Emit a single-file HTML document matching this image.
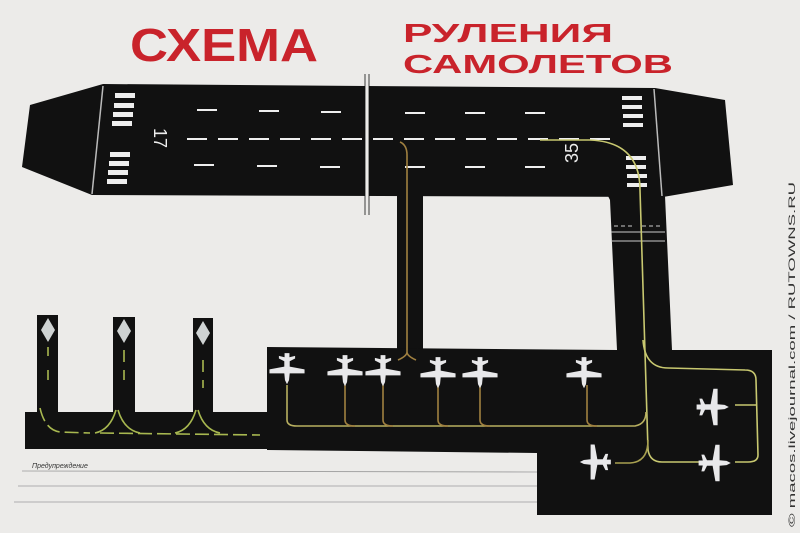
<!DOCTYPE html>
<html><head><meta charset="utf-8"><style>
html,body{margin:0;padding:0;background:#ecebe9;}
svg{display:block}
</style></head><body>
<svg width="800" height="533" viewBox="0 0 800 533" xmlns="http://www.w3.org/2000/svg">
<defs>
<g id="pl" fill="#e8e8ea">
<path d="M-1.8,-11 L1.8,-11 L1.8,-8 L6,-9 L6,-7 L2,-5 L2,-1 L13,1 L13,4 L2,4 L1.5,9 L0,12 L-1.5,9 L-2,4 L-13,4 L-13,1 L-2,-1 L-2,-5 L-6,-7 L-6,-9 L-1.8,-8Z"/>
</g>
</defs>
<rect width="800" height="533" fill="#ecebe9"/>
<text x="130" y="61" font-family="Liberation Sans, DejaVu Sans, sans-serif" font-weight="bold" font-size="46" fill="#c9232b" textLength="188" lengthAdjust="spacingAndGlyphs">СХЕМА</text>
<text x="403" y="42" font-family="Liberation Sans, DejaVu Sans, sans-serif" font-weight="bold" font-size="26" fill="#c9232b" textLength="210" lengthAdjust="spacingAndGlyphs">РУЛЕНИЯ</text>
<text x="403" y="73" font-family="Liberation Sans, DejaVu Sans, sans-serif" font-weight="bold" font-size="26" fill="#c9232b" textLength="270" lengthAdjust="spacingAndGlyphs">САМОЛЕТОВ</text>
<polygon points="103,84 365,86 655,88 725,100 733,185 663,197 92,195 22,167 30,105" fill="#111"/>
<line x1="367" y1="74" x2="367" y2="215" stroke="#ecebe9" stroke-width="4"/>
<line x1="365" y1="74" x2="365" y2="215" stroke="#111" stroke-width="0.8"/>
<line x1="369" y1="74" x2="369" y2="215" stroke="#111" stroke-width="0.8"/>
<line x1="103" y1="86" x2="92" y2="194" stroke="#bbb" stroke-width="1.5"/>
<line x1="654" y1="89" x2="662" y2="196" stroke="#bbb" stroke-width="1.5"/>
<g fill="#eee">
<rect x="115" y="93" width="20" height="5"/><rect x="114" y="103" width="20" height="5"/><rect x="113" y="112" width="20" height="5"/><rect x="112" y="121" width="20" height="5"/>
<rect x="110" y="152" width="20" height="5"/><rect x="109" y="161" width="20" height="5"/><rect x="108" y="170" width="20" height="5"/><rect x="107" y="179" width="20" height="5"/>
<rect x="622" y="96" width="20" height="4"/><rect x="622" y="105" width="20" height="4"/><rect x="623" y="114" width="20" height="4"/><rect x="623" y="123" width="20" height="4"/>
<rect x="626" y="156" width="20" height="4"/><rect x="626" y="165" width="20" height="4"/><rect x="627" y="174" width="20" height="4"/><rect x="627" y="183" width="20" height="4"/>
</g>
<line x1="187" y1="139" x2="620" y2="139" stroke="#eee" stroke-width="2" stroke-dasharray="20,11"/>
<g stroke="#eee" stroke-width="2">
<line x1="197" y1="110" x2="217" y2="110"/><line x1="259" y1="111" x2="279" y2="111"/><line x1="321" y1="112" x2="341" y2="112"/>
<line x1="194" y1="165" x2="214" y2="165"/><line x1="257" y1="166" x2="277" y2="166"/><line x1="320" y1="167" x2="340" y2="167"/>
<line x1="405" y1="113" x2="425" y2="113"/><line x1="465" y1="113" x2="485" y2="113"/><line x1="525" y1="113" x2="545" y2="113"/>
<line x1="405" y1="167" x2="425" y2="167"/><line x1="465" y1="167" x2="485" y2="167"/><line x1="525" y1="167" x2="545" y2="167"/>
</g>
<text transform="translate(160,138) rotate(90)" font-family="Liberation Sans, sans-serif" font-size="18" fill="#eee" text-anchor="middle" dy="6">17</text>
<text transform="translate(572,153) rotate(-90)" font-family="Liberation Sans, sans-serif" font-size="18" fill="#eee" text-anchor="middle" dy="6">35</text>
<rect x="397" y="195" width="26" height="155" fill="#111"/>
<polygon points="608,196 665,196 672,350 772,350 772,515 537,515 537,453 267,450 267,347 617,350 610,200" fill="#111"/>
<rect x="25" y="412" width="260" height="37" fill="#111"/>
<rect x="37" y="315" width="21" height="100" fill="#111"/>
<rect x="113" y="317" width="22" height="100" fill="#111"/>
<rect x="193" y="318" width="20" height="100" fill="#111"/>
<g fill="#cfd3d3"><polygon points="48,318 55,330 48,342 41,330"/><polygon points="124,319 131,331 124,343 117,331"/><polygon points="203,321 210,333 203,345 196,333"/></g>
<g stroke="#ccc" stroke-width="1"><line x1="611" y1="232" x2="665" y2="232"/><line x1="611" y1="241" x2="665" y2="241"/>
<line x1="614" y1="226" x2="634" y2="226" stroke-dasharray="4,3"/><line x1="642" y1="226" x2="662" y2="226" stroke-dasharray="4,3"/></g>
<g fill="none" stroke-width="1.6">
<path d="M400,142 Q407,145 407,155 L407,352 Q407,356 398,360 M407,352 Q407,356 416,360" stroke="#a08040"/>
<path d="M540,140 L590,140 Q640,142 640,190 L648,450 Q650,462 662,462 L700,462" stroke="#c8c870"/>
<path d="M287,385 L287,420 Q287,426 297,426 L635,426 Q646,424 646,412" stroke="#b8b060"/>
<path d="M345,385 L345,420 Q345,426 355,426 M383,385 L383,420 Q383,426 393,426 M438,385 L438,420 Q438,426 448,426 M480,385 L480,420 Q480,426 490,426 M587,385 L587,420 Q587,426 597,426" stroke="#a08040"/>
<path d="M643,340 Q645,368 668,368 L745,370 Q756,370 756,380 L758,455 Q758,462 748,462 L735,462 M756,405 L735,405" stroke="#c8c870"/>
<path d="M648,440 Q648,462 630,463 L615,463" stroke="#a8a050"/>
</g>
<g stroke="#a8b850" stroke-width="1.6" fill="none">
<path d="M48,347 L48,356 M48,370 L48,380"/><path d="M124,350 L124,362 M124,370 L124,380"/><path d="M203,360 L203,372 M203,380 L203,388"/>
<path d="M40,408 Q45,430 60,432 L90,433 M100,433 L260,435" stroke-dasharray="14,5"/>
<path d="M116,410 Q110,430 95,433 M118,410 Q124,430 140,433 M196,410 Q190,430 175,433 M198,410 Q204,430 220,433"/>
</g>
<g transform="translate(287,368) scale(1.35)"><use href="#pl"/></g>
<g transform="translate(345,370) scale(1.35)"><use href="#pl"/></g>
<g transform="translate(383,370) scale(1.35)"><use href="#pl"/></g>
<g transform="translate(438,372) scale(1.35)"><use href="#pl"/></g>
<g transform="translate(480,372) scale(1.35)"><use href="#pl"/></g>
<g transform="translate(584,372) scale(1.35)"><use href="#pl"/></g>
<g transform="translate(712,407) rotate(-90) scale(1.4)"><use href="#pl"/></g>
<g transform="translate(596,462) rotate(90) scale(1.35)"><use href="#pl"/></g>
<g transform="translate(714,463) rotate(-90) scale(1.4)"><use href="#pl"/></g>
<text x="32" y="468" font-family="Liberation Sans, sans-serif" font-size="7" font-style="italic" fill="#333">Предупреждение</text>
<g stroke="#9a9a9a" stroke-width="0.8"><line x1="22" y1="471" x2="537" y2="472"/><line x1="18" y1="486" x2="537" y2="486"/><line x1="14" y1="502" x2="537" y2="502"/></g>
<text transform="translate(795,527) rotate(-90)" font-family="Liberation Sans, sans-serif" font-size="9.5" fill="#333" textLength="345" lengthAdjust="spacingAndGlyphs">© macos.livejournal.com / RUTOWNS.RU</text>
</svg>
</body></html>
